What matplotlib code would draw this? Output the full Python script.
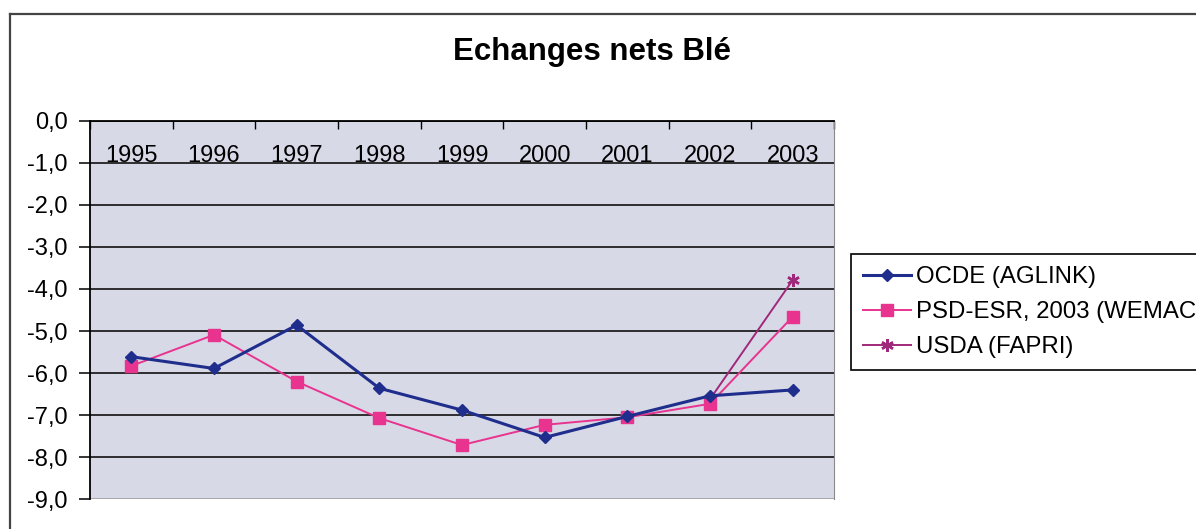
import numpy as np
import matplotlib
matplotlib.use("Agg")
import matplotlib.pyplot as plt
from matplotlib.lines import Line2D
from matplotlib.ticker import FuncFormatter

plt.rcParams['font.family'] = ['Liberation Sans', 'DejaVu Sans']

annees = ['1995', '1996', '1997', '1998', '1999', '2000', '2001', '2002', '2003']
ocde = [-5.61, -5.89, -4.86, -6.36, -6.88, -7.53, -7.03, -6.54, -6.40]
psd = [-5.83, -5.09, -6.20, -7.07, -7.71, -7.23, -7.05, -6.73, -4.66]
usda = [np.nan, np.nan, np.nan, np.nan, np.nan, np.nan, np.nan, -6.62, -3.79]

W, H = 1196, 529
fig = plt.figure(figsize=(W / 100, H / 100), dpi=100)
fig.patch.set_facecolor('white')

# cadre du graphique (coupé à droite et en bas)
fig.add_artist(Line2D([10 / W, 10 / W], [0, 1 - 14 / H], transform=fig.transFigure,
                      color='#444444', lw=1.6))
fig.add_artist(Line2D([10 / W, 1], [1 - 14 / H, 1 - 14 / H], transform=fig.transFigure,
                      color='#444444', lw=1.6))

ax = fig.add_axes([90 / W, 1 - 499.3 / H, (834 - 90) / W, (499.3 - 120.7) / H])
ax.set_facecolor('#d7d9e7')

x = np.arange(len(annees))
ax.plot(x, ocde, color='#1f2e8c', lw=2.2, marker='D', ms=6.5, label='OCDE (AGLINK)', zorder=4)
ax.plot(x, psd, color='#e8338f', lw=1.4, marker='s', ms=8, label='PSD-ESR, 2003 (WEMAC)', zorder=3)
ax.plot(x, usda, color='#a0287a', lw=1.4, marker=(6, 2, 0), ms=9, mew=1.8,
        label='USDA (FAPRI)', zorder=2)

ax.set_xlim(-0.5, len(annees) - 0.5)
ax.set_ylim(-9, 0)
ax.set_yticks(np.arange(-9, 1, 1))
ax.yaxis.set_major_formatter(FuncFormatter(lambda v, p: ('%.1f' % v).replace('.', ',').replace('-0,0', '0,0')))
ax.grid(axis='y', color='black', lw=1.1)
ax.get_ygridlines()[0].set_color('#9a9a9a')
ax.set_axisbelow(True)

# axe des catégories en haut (à 0), étiquettes sous l'axe
ax.spines['bottom'].set_position(('data', 0))
ax.spines['top'].set_visible(False)
ax.spines['right'].set_color('#8a8a8a')
ax.spines['left'].set_linewidth(1.3)
ax.spines['bottom'].set_linewidth(1.3)
ax.set_xticks(x, annees)
ax.set_xticks(np.arange(-0.5, len(annees), 1), minor=True)
ax.tick_params(axis='x', which='major', length=0, pad=17.5, labelsize=17)
ax.tick_params(axis='x', which='minor', length=6, direction='out', width=1)
ax.tick_params(axis='y', length=8, width=1.1, pad=8, labelsize=17)

fig.text(592 / W, 1 - 52 / H, 'Echanges nets Blé', ha='center', va='center',
         fontsize=22.5, fontweight='bold')

leg = fig.legend(loc='upper left', bbox_to_anchor=(851 / W, 1 - 254 / H),
                 fontsize=17.3, frameon=True, fancybox=False, framealpha=1,
                 edgecolor='black', borderpad=0.5, labelspacing=0.55,
                 handlelength=2.0, handletextpad=0.2, borderaxespad=0)
leg.get_frame().set_linewidth(1.2)

fig.savefig('out.png', dpi=100)
